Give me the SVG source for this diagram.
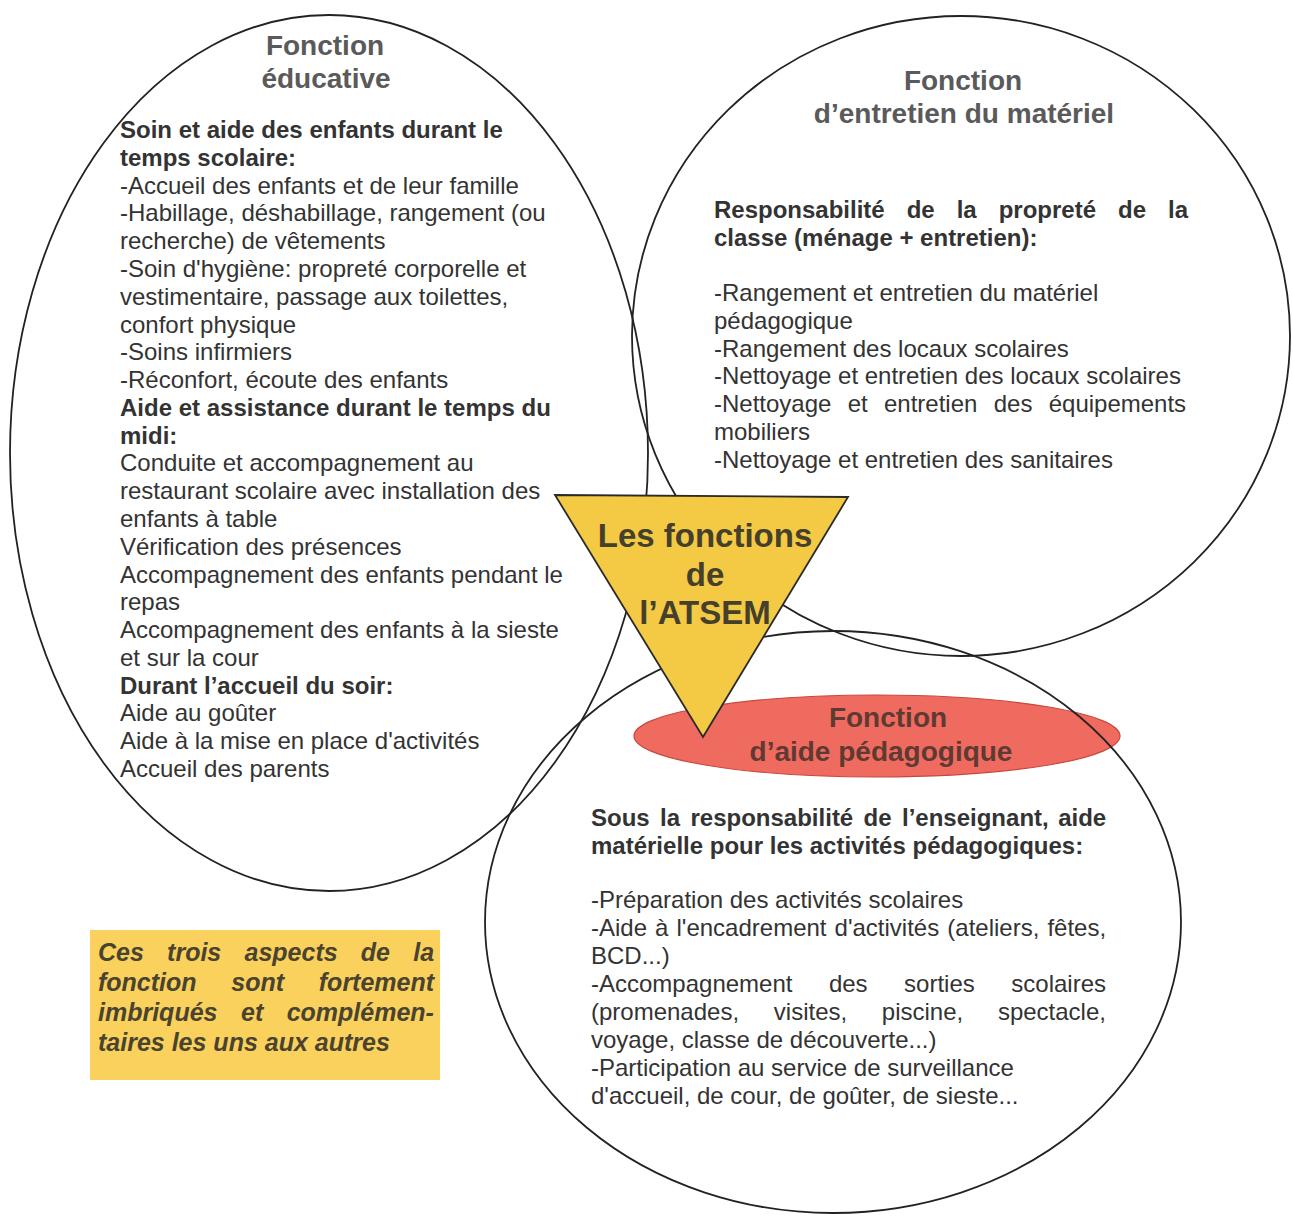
<svg xmlns="http://www.w3.org/2000/svg" width="1293" height="1218" viewBox="0 0 1293 1218">
<style>
text { font-family: "Liberation Sans", Arial, sans-serif; fill: #333; }
.body { font-size: 24px; }
.b { font-weight: bold; }
.title { font-size: 28px; font-weight: bold; fill: #5a5a5a; text-anchor: middle; }
.tri { font-size: 33px; font-weight: bold; fill: #45402c; text-anchor: middle; }
.red { font-size: 28px; font-weight: bold; fill: #5e3a33; text-anchor: middle; }
.note { font-size: 25px; font-weight: bold; font-style: italic; fill: #4a4330; }
.outline { fill: none; stroke: #222; stroke-width: 1.8; }
</style>
<rect width="1293" height="1218" fill="#ffffff"/>

<g id="aide-pedagogique-label">
  <ellipse cx="877" cy="736" rx="243" ry="41" fill="#f06b5f" stroke="#c9473c" stroke-width="1.2"/>
</g>

<g id="outlines">
  <ellipse class="outline" cx="329" cy="453" rx="319" ry="438"/>
  <ellipse class="outline" cx="961" cy="336" rx="329" ry="320"/>
  <ellipse class="outline" cx="833" cy="922" rx="348" ry="291"/>
</g>

<g id="atsem-center">
  <polygon points="555,495 848,497 703,737" fill="#f4c944" stroke="#2a2a2a" stroke-width="1.8"/>
</g>

<g id="connectors"></g>

<g id="fonction-educative">
  <text class="title" x="325" y="55">Fonction</text>
  <text class="title" x="326" y="88">éducative</text>
  <text class="body b" x="120" y="138">Soin et aide des enfants durant le</text>
  <text class="body b" x="120" y="165.8">temps scolaire:</text>
  <text class="body" x="120" y="193.6">-Accueil des enfants et de leur famille</text>
  <text class="body" x="120" y="221.3">-Habillage, déshabillage, rangement (ou</text>
  <text class="body" x="120" y="249.1">recherche) de vêtements</text>
  <text class="body" x="120" y="276.9">-Soin d'hygiène: propreté corporelle et</text>
  <text class="body" x="120" y="304.7">vestimentaire, passage aux toilettes,</text>
  <text class="body" x="120" y="332.5">confort physique</text>
  <text class="body" x="120" y="360.2">-Soins infirmiers</text>
  <text class="body" x="120" y="388">-Réconfort, écoute des enfants</text>
  <text class="body b" x="120" y="415.8">Aide et assistance durant le temps du</text>
  <text class="body b" x="120" y="443.6">midi:</text>
  <text class="body" x="120" y="471.4">Conduite et accompagnement au</text>
  <text class="body" x="120" y="499.1">restaurant scolaire avec installation des</text>
  <text class="body" x="120" y="526.9">enfants à table</text>
  <text class="body" x="120" y="554.7">Vérification des présences</text>
  <text class="body" x="120" y="582.5">Accompagnement des enfants pendant le</text>
  <text class="body" x="120" y="610.3">repas</text>
  <text class="body" x="120" y="638">Accompagnement des enfants à la sieste</text>
  <text class="body" x="120" y="665.8">et sur la cour</text>
  <text class="body b" x="120" y="693.6">Durant l’accueil du soir:</text>
  <text class="body" x="120" y="721.4">Aide au goûter</text>
  <text class="body" x="120" y="749.2">Aide à la mise en place d'activités</text>
  <text class="body" x="120" y="777">Accueil des parents</text>
</g>

<g id="fonction-entretien">
  <text class="title" x="963" y="90">Fonction</text>
  <text class="title" x="964" y="123">d’entretien du matériel</text>
  <text class="body b" y="218"><tspan x="714">Responsabilité</tspan><tspan x="906.7">de</tspan><tspan x="956.7">la</tspan><tspan x="998.7">propreté</tspan><tspan x="1118">de</tspan><tspan x="1168">la</tspan></text>
  <text class="body b" x="714" y="246">classe (ménage + entretien):</text>
  <text class="body" x="714" y="301">-Rangement et entretien du matériel</text>
  <text class="body" x="714" y="328.8">pédagogique</text>
  <text class="body" x="714" y="356.6">-Rangement des locaux scolaires</text>
  <text class="body" x="714" y="384.3">-Nettoyage et entretien des locaux scolaires</text>
  <text class="body" y="412.1"><tspan x="714">-Nettoyage</tspan><tspan x="847.7">et</tspan><tspan x="884">entretien</tspan><tspan x="993.7">des</tspan><tspan x="1048.7">équipements</tspan></text>
  <text class="body" x="714" y="439.9">mobiliers</text>
  <text class="body" x="714" y="467.7">-Nettoyage et entretien des sanitaires</text>
</g>

<g id="atsem-center-label">
  <text class="tri" x="705" y="547">Les fonctions</text>
  <text class="tri" x="705" y="586">de</text>
  <text class="tri" x="705" y="624">l’ATSEM</text>
</g>

<g id="fonction-aide-pedagogique">
  <text class="red" x="888" y="727">Fonction</text>
  <text class="red" x="881" y="761">d’aide pédagogique</text>
  <text class="body b" y="826"><tspan x="591">Sous</tspan><tspan x="660.1">la</tspan><tspan x="690.5">responsabilité</tspan><tspan x="863.6">de</tspan><tspan x="902">l’enseignant,</tspan><tspan x="1058.2">aide</tspan></text>
  <text class="body b" x="591" y="854">matérielle pour les activités pédagogiques:</text>
  <text class="body" x="591" y="908">-Préparation des activités scolaires</text>
  <text class="body" y="936"><tspan x="591">-Aide</tspan><tspan x="655.1">à</tspan><tspan x="676.5">l'encadrement</tspan><tspan x="834.6">d'activités</tspan><tspan x="947.3">(ateliers,</tspan><tspan x="1047.4">fêtes,</tspan></text>
  <text class="body" x="591" y="964">BCD...)</text>
  <text class="body" y="992"><tspan x="591">-Accompagnement</tspan><tspan x="828.9">des</tspan><tspan x="904.1">sorties</tspan><tspan x="1011.3">scolaires</tspan></text>
  <text class="body" y="1020"><tspan x="591">(promenades,</tspan><tspan x="773.8">visites,</tspan><tspan x="881.8">piscine,</tspan><tspan x="997.9">spectacle,</tspan></text>
  <text class="body" x="591" y="1048">voyage, classe de découverte...)</text>
  <text class="body" x="591" y="1076">-Participation au service de surveillance</text>
  <text class="body" x="591" y="1104">d'accueil, de cour, de goûter, de sieste...</text>
</g>

<g id="note">
  <rect x="90" y="930" width="350" height="150" fill="#f9d15c"/>
  <text class="note" y="961"><tspan x="98">Ces</tspan><tspan x="167.1">trois</tspan><tspan x="244.5">aspects</tspan><tspan x="360.8">de</tspan><tspan x="413.2">la</tspan></text>
  <text class="note" y="991"><tspan x="98">fonction</tspan><tspan x="231.3">sont</tspan><tspan x="318.8">fortement</tspan></text>
  <text class="note" y="1021"><tspan x="98">imbriqués</tspan><tspan x="241">et</tspan><tspan x="286.7">complémen-</tspan></text>
  <text class="note" x="98" y="1051">taires les uns aux autres</text>
</g>
</svg>
